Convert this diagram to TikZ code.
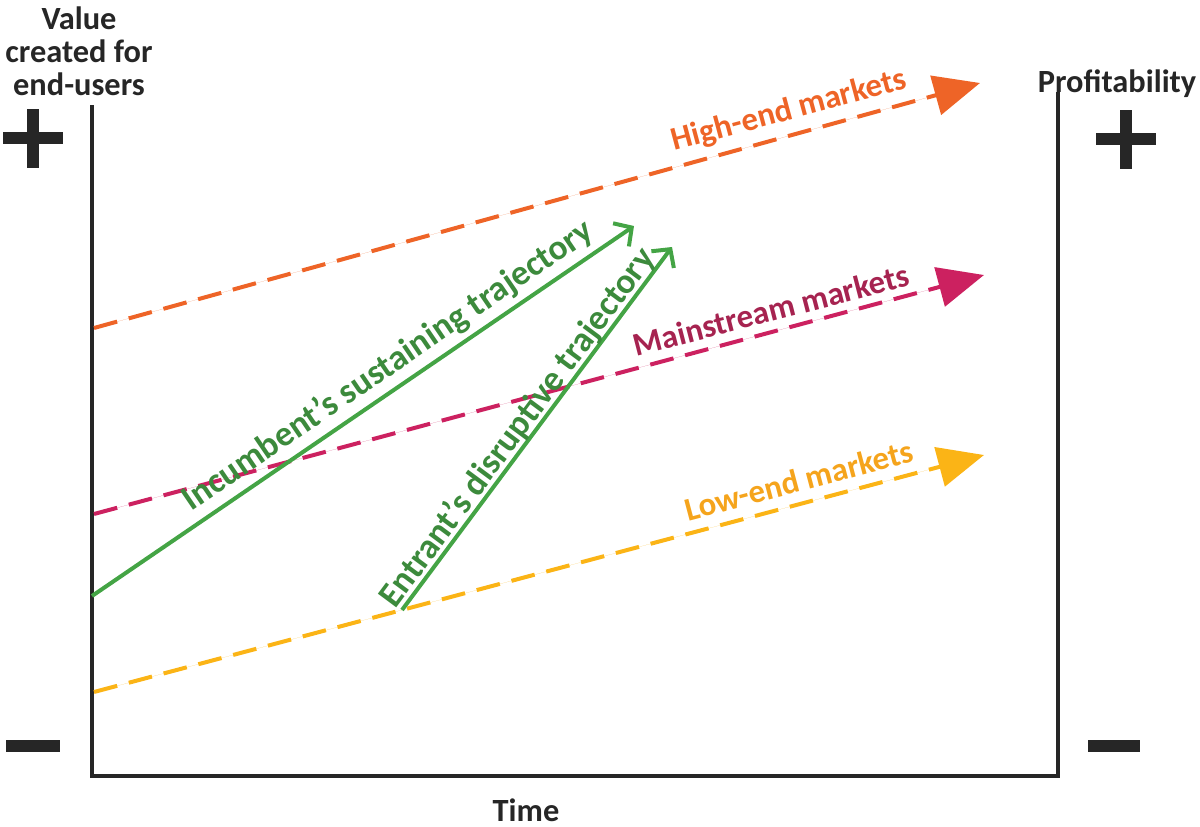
\documentclass[tikz,border=0pt]{standalone}
\usepackage{fontspec}
\setmainfont{Carlito}
\usetikzlibrary{arrows.meta}
\definecolor{axisgray}{HTML}{262626}
\definecolor{highorange}{HTML}{EE6427}
\definecolor{mainred}{HTML}{CC2160}
\definecolor{mainredtxt}{HTML}{A62350}
\definecolor{lowyellow}{HTML}{FBB416}
\definecolor{lowtxt}{HTML}{F5A41C}
\definecolor{greenline}{HTML}{44A445}
\definecolor{greentxt}{HTML}{3C8A3C}
\begin{document}
\begin{tikzpicture}[x=1bp,y=-1bp,
  axisline/.style={draw=axisgray,line width=4bp},
  market/.style={line width=4bp,dash pattern=on 24bp off 12bp,-{Triangle[length=46bp,width=40bp]}},
  traj/.style={draw=greenline,line width=4bp,-{Straight Barb[length=13bp,width=28bp,line width=4bp]}},
  axistext/.style={font=\bfseries\fontsize{32.5}{33}\selectfont,text=axisgray,align=center,inner sep=0pt},
  lab/.style={font=\bfseries\fontsize{33}{36}\selectfont,inner sep=0pt},
  glab/.style={font=\bfseries\fontsize{35.5}{38}\selectfont,inner sep=0pt,text=greentxt}]
\useasboundingbox (0,0) rectangle (1200,827);
% frame
\coordinate (lt) at (92,105);
\coordinate (lb) at (92,776);
\coordinate (rb) at (1058,776);
\coordinate (rt) at (1058,92);
\draw[axisline] (lt) -- (lb) -- (rb) -- (rt);
% axis texts
\node[axistext] (yl) at (79,51) {Value\\created for\\end-users};
\node[axistext] (yr) at (1117,84) {Profitability};
\node[axistext] (tx) at (526,810) {Time};
% signs
\fill[axisgray] (3,132) rectangle (63,144);
\fill[axisgray] (27,109) rectangle (39,168);
\fill[axisgray] (1096,133) rectangle (1156,145);
\fill[axisgray] (1120,110) rectangle (1132,169);
\fill[axisgray] (6,740) rectangle (60,752);
\fill[axisgray] (1088,740) rectangle (1140,752);
% markets
\coordinate (hs) at (94,328);
\coordinate (he) at (980,83);
\coordinate (ms) at (94,514);
\coordinate (me) at (984,275);
\coordinate (ls) at (94,692);
\coordinate (le) at (984,455);
\draw[market,draw=highorange,fill=highorange] (hs) -- (he);
\draw[market,draw=mainred,fill=mainred] (ms) -- (me);
\draw[market,draw=lowyellow,fill=lowyellow] (ls) -- (le);
\node[lab,text=highorange,rotate=15] (hl) at (789,111) {High-end markets};
\node[lab,text=mainredtxt,rotate=14.5] (mlab) at (771,310) {Mainstream markets};
\node[lab,text=lowtxt,rotate=14.8] (llab) at (799,480) {Low-end markets};
% trajectories
\coordinate (is) at (92,596);
\coordinate (ie) at (634,226);
\coordinate (es) at (402,610);
\coordinate (ee) at (672,247);
\draw[traj] (is) -- (ie);
\draw[traj] (es) -- (ee);
\node[glab,rotate=34.3] (il) at (388,366) {Incumbent’s sustaining trajectory};
\node[glab,rotate=53.4] (el) at (518,428) {Entrant’s disruptive trajectory};
\end{tikzpicture}
\end{document}
